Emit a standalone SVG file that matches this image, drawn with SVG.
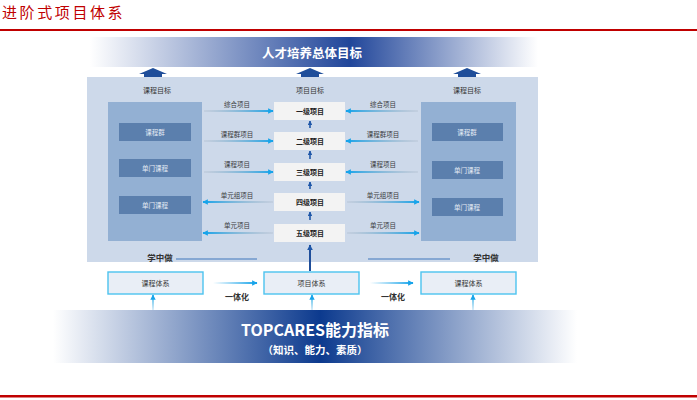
<svg xmlns="http://www.w3.org/2000/svg" width="697" height="400" viewBox="0 0 697 400">
<defs>
<style>
.t{font-family:"Noto Sans CJK SC","Noto Sans",sans-serif;text-anchor:middle;dominant-baseline:central}
.sm{font-size:6.5px;fill:#3a3a3a}
.hd{font-size:7px;fill:#333}
.wb{font-size:6.5px;fill:#e6edf6}
.cb{font-size:7px;font-weight:bold;fill:#222}
.ib{fill:#5b7fad}
.cbox{fill:#f3f3f3}
.bb{fill:#e9eef6;stroke:#4cc3ef;stroke-width:1.4}
.con{fill:none;stroke-width:1.8}
</style>
<linearGradient id="gTop" x1="0" x2="1" y1="0" y2="0">
<stop offset="0" stop-color="#ffffff"/><stop offset="0.58" stop-color="#21469a"/><stop offset="1" stop-color="#ffffff"/>
</linearGradient>
<linearGradient id="gBot" x1="0" x2="1" y1="0" y2="0">
<stop offset="0" stop-color="#ffffff"/><stop offset="0.51" stop-color="#0c3a8e"/><stop offset="1" stop-color="#ffffff"/>
</linearGradient>
<linearGradient id="gLin" gradientUnits="userSpaceOnUse" x1="204" y1="0" x2="273" y2="0">
<stop offset="0" stop-color="#9aa8b8" stop-opacity="0.2"/><stop offset="1" stop-color="#18a4ea"/>
</linearGradient>
<linearGradient id="gLout" gradientUnits="userSpaceOnUse" x1="273" y1="0" x2="204" y2="0">
<stop offset="0" stop-color="#9aa8b8" stop-opacity="0.2"/><stop offset="1" stop-color="#18a4ea"/>
</linearGradient>
<linearGradient id="gRin" gradientUnits="userSpaceOnUse" x1="418" y1="0" x2="347" y2="0">
<stop offset="0" stop-color="#9aa8b8" stop-opacity="0.2"/><stop offset="1" stop-color="#18a4ea"/>
</linearGradient>
<linearGradient id="gRout" gradientUnits="userSpaceOnUse" x1="347" y1="0" x2="418" y2="0">
<stop offset="0" stop-color="#9aa8b8" stop-opacity="0.2"/><stop offset="1" stop-color="#18a4ea"/>
</linearGradient>
<linearGradient id="gY1" gradientUnits="userSpaceOnUse" x1="213" y1="0" x2="257" y2="0">
<stop offset="0" stop-color="#ffffff"/><stop offset="1" stop-color="#18a4ea"/>
</linearGradient>
<linearGradient id="gY2" gradientUnits="userSpaceOnUse" x1="370" y1="0" x2="413" y2="0">
<stop offset="0" stop-color="#ffffff"/><stop offset="1" stop-color="#18a4ea"/>
</linearGradient>
<linearGradient id="gUp" gradientUnits="userSpaceOnUse" x1="0" y1="310" x2="0" y2="295">
<stop offset="0" stop-color="#d6ecf8"/><stop offset="1" stop-color="#3db4e8"/>
</linearGradient>
<marker id="ah" viewBox="0 0 10 10" refX="9" refY="5" markerWidth="3" markerHeight="3" orient="auto">
<path d="M0,0L10,5L0,10z" fill="#18a4ea"/>
</marker>
<marker id="ahd" viewBox="0 0 10 10" refX="9" refY="5" markerWidth="3" markerHeight="3" orient="auto">
<path d="M0,0L10,5L0,10z" fill="#1f57a8"/>
</marker>
</defs>
<rect width="697" height="400" fill="#ffffff"/>
<g id="title">
<text x="2" y="13" style="font-family:'Liberation Serif','Noto Sans CJK SC',serif;font-size:15px;fill:#c00000;letter-spacing:2.6px;dominant-baseline:central">进阶式项目体系</text>
<rect x="0" y="29" width="697" height="2" fill="#c00000"/>
</g>
<g id="top-banner">
<rect x="90" y="37" width="448" height="30" fill="url(#gTop)"/>
<text class="t" x="312" y="52" style="font-size:12.5px;font-weight:bold;fill:#ffffff">人才培养总体目标</text>
</g>
<g id="up-arrows" fill="#1f4e9a">
<path d="M144,78h18v-4h5l-14,-6l-14,6h5z"/>
<path d="M301,78h18v-4h5l-14,-6l-14,6h5z"/>
<path d="M458,78h18v-4h5l-14,-6l-14,6h5z"/>
</g>
<g id="panel">
<rect x="87" y="77" width="451" height="185" fill="#cdd9ea"/>
</g>
<g id="left-column">
<text class="t hd" x="157" y="90">课程目标</text>
<rect x="108" y="102" width="94" height="139" fill="#93b0d3"/>
<rect class="ib" x="119" y="123" width="72" height="18"/>
<text class="t wb" x="155" y="132">课程群</text>
<rect class="ib" x="119" y="159" width="72" height="18"/>
<text class="t wb" x="155" y="168">单门课程</text>
<rect class="ib" x="119" y="196" width="72" height="18"/>
<text class="t wb" x="155" y="205">单门课程</text>
</g>
<g id="right-column">
<text class="t hd" x="467" y="90">课程目标</text>
<rect x="421" y="102" width="95" height="139" fill="#93b0d3"/>
<rect class="ib" x="432" y="123" width="71" height="18"/>
<text class="t wb" x="467" y="132">课程群</text>
<rect class="ib" x="432" y="161" width="71" height="18"/>
<text class="t wb" x="467" y="170">单门课程</text>
<rect class="ib" x="432" y="198" width="71" height="18"/>
<text class="t wb" x="467" y="207">单门课程</text>
</g>
<g id="center-column">
<text class="t hd" x="310" y="90">项目目标</text>
<g id="n1"><rect class="cbox" x="274" y="102" width="71" height="18"/><text class="t cb" x="310" y="111">一级项目</text></g>
<g id="n2"><rect class="cbox" x="274" y="132" width="71" height="18"/><text class="t cb" x="310" y="141">二级项目</text></g>
<g id="n3"><rect class="cbox" x="274" y="163" width="71" height="18"/><text class="t cb" x="310" y="172">三级项目</text></g>
<g id="n4"><rect class="cbox" x="274" y="193" width="71" height="18"/><text class="t cb" x="310" y="202">四级项目</text></g>
<g id="n5"><rect class="cbox" x="274" y="224" width="71" height="18"/><text class="t cb" x="310" y="233">五级项目</text></g>
</g>
<g id="labels">
<text class="t sm" x="237" y="104">综合项目</text>
<text class="t sm" x="237" y="134">课程群项目</text>
<text class="t sm" x="237" y="164">课程项目</text>
<text class="t sm" x="237" y="195">单元组项目</text>
<text class="t sm" x="237" y="225">单元项目</text>
<text class="t sm" x="383" y="104">综合项目</text>
<text class="t sm" x="383" y="134">课程群项目</text>
<text class="t sm" x="383" y="164">课程项目</text>
<text class="t sm" x="383" y="195">单元组项目</text>
<text class="t sm" x="383" y="225">单元项目</text>
<text class="t" x="160" y="257" style="font-size:8.5px;font-weight:bold;fill:#333">学中做</text>
<text class="t" x="486" y="257" style="font-size:8.5px;font-weight:bold;fill:#333">学中做</text>
<text class="t" x="237" y="296" style="font-size:8px;font-weight:bold;fill:#333">一体化</text>
<text class="t" x="393" y="296" style="font-size:8px;font-weight:bold;fill:#333">一体化</text>
</g>
<g id="bottom-boxes">
<g id="b1"><rect class="bb" x="108" y="272" width="95" height="22"/><text class="t hd" x="155.5" y="283">课程体系</text></g>
<g id="b2"><rect class="bb" x="264" y="272" width="95" height="22"/><text class="t hd" x="311.5" y="283">项目体系</text></g>
<g id="b3"><rect class="bb" x="421" y="272" width="95" height="22"/><text class="t hd" x="468.5" y="283">课程体系</text></g>
</g>
<g id="bottom-banner">
<rect x="53" y="310" width="524" height="53" fill="url(#gBot)"/>
<text class="t" x="315" y="329" style="font-size:16px;font-weight:bold;fill:#ffffff">TOPCARES能力指标</text>
<text class="t" x="315" y="349" style="font-size:10.5px;font-weight:bold;fill:#ffffff">（知识、能力、素质）</text>
</g>
<g id="connectors">
<path class="con" stroke="url(#gLin)" marker-end="url(#ah)" d="M204,111H273"/>
<path class="con" stroke="url(#gLin)" marker-end="url(#ah)" d="M204,141H273"/>
<path class="con" stroke="url(#gLin)" marker-end="url(#ah)" d="M204,172H273"/>
<path class="con" stroke="url(#gLout)" marker-end="url(#ah)" d="M273,202H203"/>
<path class="con" stroke="url(#gLout)" marker-end="url(#ah)" d="M273,233H203"/>
<path class="con" stroke="url(#gRin)" marker-end="url(#ah)" d="M418,111H346"/>
<path class="con" stroke="url(#gRin)" marker-end="url(#ah)" d="M418,141H346"/>
<path class="con" stroke="url(#gRin)" marker-end="url(#ah)" d="M418,172H346"/>
<path class="con" stroke="url(#gRout)" marker-end="url(#ah)" d="M347,202H419"/>
<path class="con" stroke="url(#gRout)" marker-end="url(#ah)" d="M347,233H419"/>
<path fill="none" stroke="#1f57a8" stroke-width="1.6" marker-end="url(#ahd)" d="M310,128V121"/>
<path fill="none" stroke="#1f57a8" stroke-width="1.6" marker-end="url(#ahd)" d="M310,159V151"/>
<path fill="none" stroke="#1f57a8" stroke-width="1.6" marker-end="url(#ahd)" d="M310,189V182"/>
<path fill="none" stroke="#1f57a8" stroke-width="1.6" marker-end="url(#ahd)" d="M310,220V212"/>
<path fill="none" stroke="#1f4e9a" stroke-width="2" marker-end="url(#ahd)" d="M310,271V245"/>
<path fill="none" stroke="#6f98cc" stroke-width="1.6" d="M176,259H257M368,259H450"/>
<path class="con" stroke="url(#gY1)" marker-end="url(#ah)" d="M213,283H257"/>
<path class="con" stroke="url(#gY2)" marker-end="url(#ah)" d="M370,283H413"/>
<path class="con" stroke="url(#gUp)" marker-end="url(#ah)" d="M153,310V295"/>
<path class="con" stroke="url(#gUp)" marker-end="url(#ah)" d="M312,310V295"/>
<path class="con" stroke="url(#gUp)" marker-end="url(#ah)" d="M473,310V295"/>
</g>
<g id="footer">
<rect x="0" y="395" width="697" height="2.5" fill="#c00000"/>
</g>
</svg>
